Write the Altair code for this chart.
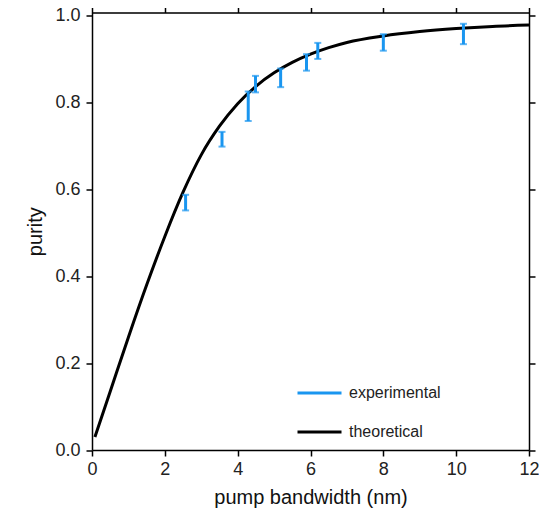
import altair as alt
import pandas as pd

# Theoretical curve
theo_x = [0.08, 0.5, 1.0, 1.5, 2.0, 2.5, 3.0, 3.5, 4.0, 4.5, 5.0, 5.5, 6.0, 6.5, 7.0, 8.0, 9.0, 10.0, 11.0, 12.0]
theo_y = [0.03, 0.135, 0.26, 0.38, 0.492, 0.594, 0.68, 0.746, 0.798, 0.838, 0.869, 0.893, 0.912, 0.927, 0.939, 0.954, 0.964, 0.971, 0.976, 0.979]

# Experimental error bars
exp_x = [2.57, 3.57, 4.29, 4.49, 5.18, 5.89, 6.2, 8.0, 10.2]
exp_lo = [0.552, 0.699, 0.758, 0.824, 0.836, 0.874, 0.901, 0.920, 0.935]
exp_hi = [0.588, 0.733, 0.826, 0.862, 0.879, 0.912, 0.938, 0.958, 0.982]

series_names = ["experimental", "theoretical"]
series_colors = ["#1a96f0", "#000000"]

theo = pd.DataFrame({"x": theo_x, "y": theo_y, "series": "theoretical"})
exp = pd.DataFrame({"x": exp_x, "lo": exp_lo, "hi": exp_hi, "series": "experimental"})

FONT = "Liberation Sans"
xscale = alt.Scale(domain=[0, 12], nice=False, zero=False)
yscale = alt.Scale(domain=[0, 1.008], nice=False, zero=False)
cscale = alt.Scale(domain=series_names, range=series_colors)

axis_common = dict(grid=False, domainColor="black", domainWidth=1.5, tickColor="black",
                   tickWidth=1.5, tickSize=6, labelFont=FONT, labelFontSize=18,
                   labelColor="#222222", titleFont=FONT, titleFontSize=20,
                   titleFontWeight="normal", titleColor="#111111", labelFlush=False)

line = alt.Chart(theo).mark_line(strokeWidth=3, clip=True, interpolate="monotone").encode(
    x=alt.X("x:Q", scale=xscale, title="pump bandwidth (nm)",
            axis=alt.Axis(values=[0, 2, 4, 6, 8, 10, 12], titlePadding=9, labelPadding=4, **axis_common)),
    y=alt.Y("y:Q", scale=yscale, title="purity",
            axis=alt.Axis(values=[0, 0.2, 0.4, 0.6, 0.8, 1.0], format=".1f", titlePadding=9,
                          labelPadding=6, **axis_common)),
    color=alt.Color("series:N", scale=cscale, legend=alt.Legend(
        title=None, orient="none", legendX=204, legendY=357, symbolType="stroke",
        symbolSize=1936, symbolStrokeWidth=3, labelFont=FONT, labelFontSize=16,
        labelColor="#222222", labelOffset=6, rowPadding=7, direction="vertical")),
)

bars = alt.Chart(exp).mark_rule(strokeWidth=3).encode(
    x=alt.X("x:Q", scale=xscale, axis=None),
    y=alt.Y("lo:Q", scale=yscale, axis=None),
    y2="hi:Q",
    color=alt.Color("series:N", scale=cscale, legend=None),
)
caps_lo = alt.Chart(exp).mark_tick(orient="horizontal", size=7, thickness=2).encode(
    x=alt.X("x:Q", scale=xscale, axis=None),
    y=alt.Y("lo:Q", scale=yscale, axis=None),
    color=alt.Color("series:N", scale=cscale, legend=None),
)
caps_hi = alt.Chart(exp).mark_tick(orient="horizontal", size=7, thickness=2).encode(
    x=alt.X("x:Q", scale=xscale, axis=None),
    y=alt.Y("hi:Q", scale=yscale, axis=None),
    color=alt.Color("series:N", scale=cscale, legend=None),
)

mirror_common = dict(grid=False, domainColor="black", domainWidth=1.5, tickColor="black",
                     tickWidth=1.5, tickSize=6, labels=False, title=None)
mirror = alt.Chart(theo).mark_line(opacity=0).encode(
    x=alt.X("x:Q", scale=xscale, axis=alt.Axis(orient="top", values=[0, 2, 4, 6, 8, 10, 12], **mirror_common)),
    y=alt.Y("y:Q", scale=yscale, axis=alt.Axis(orient="right", values=[0, 0.2, 0.4, 0.6, 0.8, 1.0], **mirror_common)),
)

chart = alt.layer(line, bars, caps_lo, caps_hi, mirror).resolve_axis(
    x="independent", y="independent"
).properties(
    width=437, height=437.5,
    autosize=alt.AutoSizeParams(type="none"),
    padding={"left": 84, "top": 4.5, "right": 10, "bottom": 60},
).configure_view(stroke=None).configure(background="white")

chart.save("out.html", embed_options={"renderer": "svg", "actions": False})
